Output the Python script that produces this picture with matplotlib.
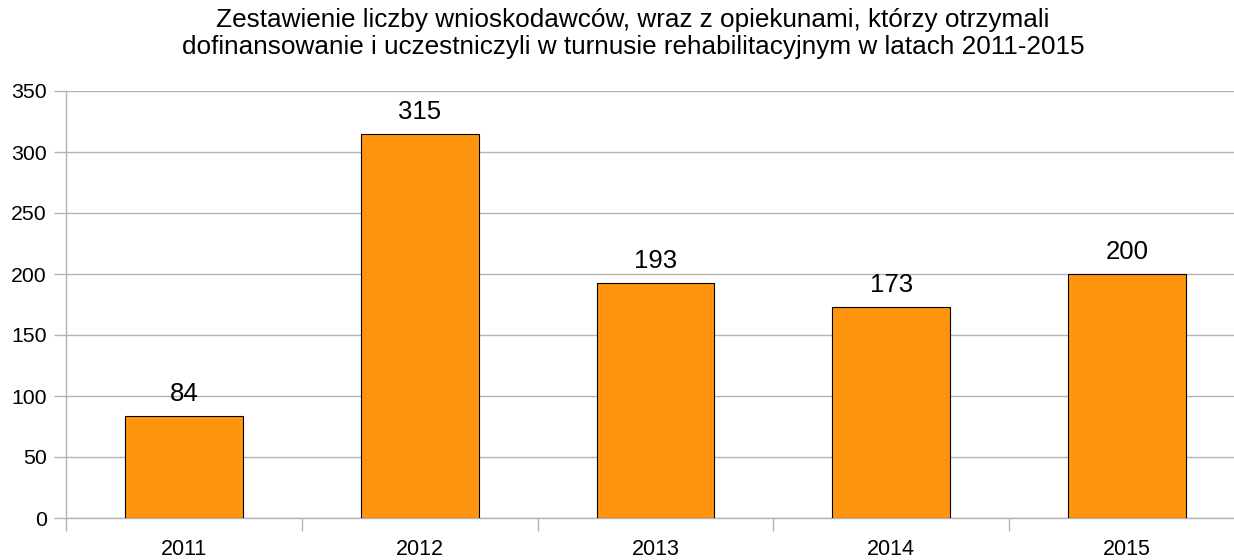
import matplotlib.pyplot as plt
import numpy as np

plt.rcParams['font.family'] = ['Liberation Sans', 'DejaVu Sans']

years = ['2011', '2012', '2013', '2014', '2015']
counts = [84, 315, 193, 173, 200]
title = ('Zestawienie liczby wnioskodawców, wraz z opiekunami, którzy otrzymali\n'
         'dofinansowanie i uczestniczyli w turnusie rehabilitacyjnym w latach 2011-2015')

fig = plt.figure(figsize=(12.34, 5.6), dpi=100)
# plot area runs a bit past the right edge, as in the original export
ax = fig.add_axes([66 / 1234, 1 - 518 / 560, (5 * 235.8) / 1234, (518 - 91) / 560])

x = np.arange(len(years))
ax.bar(x, counts, width=0.5, color='#ff950e', edgecolor='#000000', linewidth=0.8, zorder=3)
for xi, v in zip(x, counts):
    ax.text(xi, v + 8, str(v), ha='center', va='bottom', fontsize=18.5, color='#000000')

ax.set_xlim(-0.5, len(years) - 0.5)
ax.set_ylim(0, 350)
ax.set_yticks(np.arange(0, 351, 50))
ax.yaxis.grid(True, color='#b3b3b3', linewidth=1)
ax.set_axisbelow(True)

ax.set_xticks(x)
ax.set_xticklabels(years)
ax.set_xticks(np.arange(-0.5, len(years) + 0.5, 1), minor=True)
ax.tick_params(axis='x', which='major', length=0, labelsize=15.5, pad=15)
ax.tick_params(axis='x', which='minor', length=9, color='#b3b3b3', width=1)
ax.tick_params(axis='y', length=9, color='#b3b3b3', width=1, labelsize=15.3, pad=5)

for s in ['top', 'right']:
    ax.spines[s].set_visible(False)
for s in ['left', 'bottom']:
    ax.spines[s].set_color('#b3b3b3')
    ax.spines[s].set_linewidth(1)

fig.text(633 / 1234, 0.985, title, ha='center', va='top', fontsize=18.8, linespacing=1.12)

fig.savefig('out.png', dpi=100)
